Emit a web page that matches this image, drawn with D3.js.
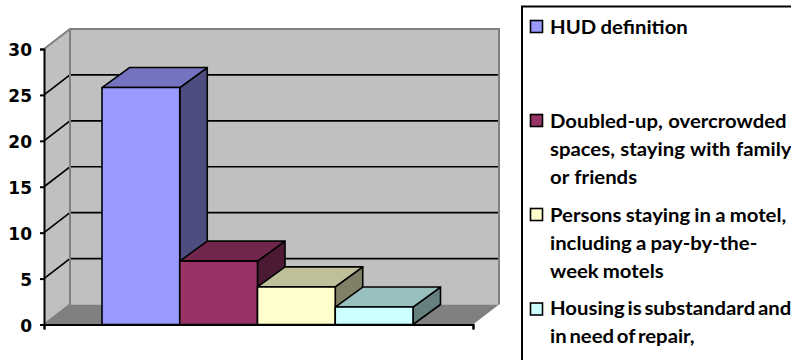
<!DOCTYPE html>
<html><head><meta charset="utf-8">
<script src="https://cdn.jsdelivr.net/npm/d3@7/dist/d3.min.js"></script>
<style>html,body{margin:0;padding:0;background:#fff}svg{display:block}</style></head>
<body><svg id="c" width="791" height="360"></svg>
<script>
const seriesNames = ["HUD definition","Doubled-up, overcrowded","Persons staying in a motel","Housing is substandard"];
const seriesValues = [25.8, 6.9, 4.1, 1.9];
const frontColors = ["#9999FF","#993366","#FFFFCC","#CCFFFF"];
const topColors = ["#7373BF","#73264D","#BFBF99","#99BFBF"];
const sideColors = ["#4D4D80","#4D1A33","#808066","#668080"];
const tickLabels = [0,5,10,15,20,25,30];
const legendLines = [
  ["HUD definition"],
  ["Doubled-up, overcrowded","spaces, staying with family","or friends"],
  ["Persons staying in a motel,","including a pay-by-the-","week motels"],
  ["Housing is substandard and","in need of repair,"]
];
const legendSwatchY = [26.5,120.5,214.5,309];
const legendBaselines = [[34],[128,156,184],[222,250,278],[315,343]];
const legendWordSpacing = [-0.5,0.5,-0.7,-2];

const svg = d3.select("#c");
const y = d3.scaleLinear().domain([0,30]).range([324.5,49]);
const x0 = 44, x1 = 473, dx = 26, dy = 20;
const x = d3.scaleBand().domain(seriesNames).range([102,413]);
const poly = pts => pts.map(p=>p.join(",")).join(" ");
const g = svg.append("g");

// walls
g.append("polygon").attr("points",poly([[x0,y(0)],[x0+dx,y(0)-dy],[x0+dx,y(30)-dy],[x0,y(30)]])).attr("fill","#C0C0C0");
g.append("polygon").attr("points",poly([[x0+dx,y(0)-dy],[x1+dx,y(0)-dy],[x1+dx,y(30)-dy],[x0+dx,y(30)-dy]])).attr("fill","#C0C0C0");
g.append("polygon").attr("points",poly([[x0,y(0)],[x0+dx,y(0)-dy],[x1+dx,y(0)-dy],[x1,y(0)]])).attr("fill","#808080");

// gridlines
tickLabels.slice(1,-1).forEach(t=>{
  g.append("path").attr("d",`M${x0},${y(t)}L${x0+dx},${y(t)-dy}L${x1+dx},${y(t)-dy}`).attr("fill","none").attr("stroke","#000").attr("stroke-width",1.6);
});
// wall borders
g.append("path").attr("d",`M${x0},${y(30)}L${x0+dx},${y(30)-dy}L${x1+dx},${y(30)-dy}L${x1+dx},${y(0)-dy}`).attr("fill","none").attr("stroke","#808080").attr("stroke-width",2);
g.append("path").attr("d",`M${x0+dx},${y(30)-dy}L${x0+dx},${y(0)-dy}L${x0},${y(0)}`).attr("fill","none").attr("stroke","#808080").attr("stroke-width",2);

// bars, left to right: each bar's front and top overlap the previous bar's side
const bdx = 27.5, bdy = 20;
seriesNames.forEach((n,i)=>{
  const L = x(n), R = L + x.bandwidth(), T = y(seriesValues[i]), B = y(0);
  const bar = g.append("g").attr("stroke","#000").attr("stroke-width",1.6).attr("stroke-linejoin","round");
  bar.append("polygon").attr("points",poly([[R,T],[R+bdx,T-bdy],[R+bdx,B-bdy],[R,B]])).attr("fill",sideColors[i]);
  bar.append("polygon").attr("points",poly([[L,T],[L+bdx,T-bdy],[R+bdx,T-bdy],[R,T]])).attr("fill",topColors[i]);
  bar.append("rect").attr("x",L).attr("y",T).attr("width",R-L).attr("height",B-T).attr("fill",frontColors[i]);
});

// value axis
const axis = d3.axisLeft(y).tickValues(tickLabels).tickSize(4).tickPadding(8);
const ag = svg.append("g").attr("transform",`translate(${x0},0)`).call(axis);
ag.select(".domain").attr("stroke","#000").attr("stroke-width",2);
ag.selectAll(".tick line").attr("stroke","#000").attr("stroke-width",2);
ag.selectAll("text").attr("font-family","DejaVu Sans").attr("font-weight","bold").attr("font-size",17).attr("fill","#000").attr("dy","0.4em");

// category axis
const xAxisScale = d3.scaleLinear().domain([0,1]).range([x0,x1]);
const cg = svg.append("g").attr("transform",`translate(0,${y(0)})`).call(d3.axisBottom(xAxisScale).tickValues([0,1]).tickSize(5).tickFormat(""));
cg.select(".domain").attr("stroke","#000").attr("stroke-width",2);
cg.selectAll(".tick line").attr("stroke","#000").attr("stroke-width",2);

// legend
svg.append("rect").attr("x",522).attr("y",6.5).attr("width",300).attr("height",400).attr("fill","#fff").attr("stroke","#000").attr("stroke-width",2);
legendLines.forEach((lines,i)=>{
  svg.append("rect").attr("x",530.5).attr("y",legendSwatchY[i]-6).attr("width",12).attr("height",12)
    .attr("fill",frontColors[i]).attr("stroke","#000").attr("stroke-width",1.6);
  lines.forEach((ln,j)=>{
    svg.append("text").attr("transform",`translate(550,${legendBaselines[i][j]}) scale(1.07,1)`).text(ln)
      .attr("font-family","Lato").attr("font-weight","bold").attr("font-size",19).attr("fill","#000")
      .attr("word-spacing",legendWordSpacing[i]);
  });
});
</script></body></html>
